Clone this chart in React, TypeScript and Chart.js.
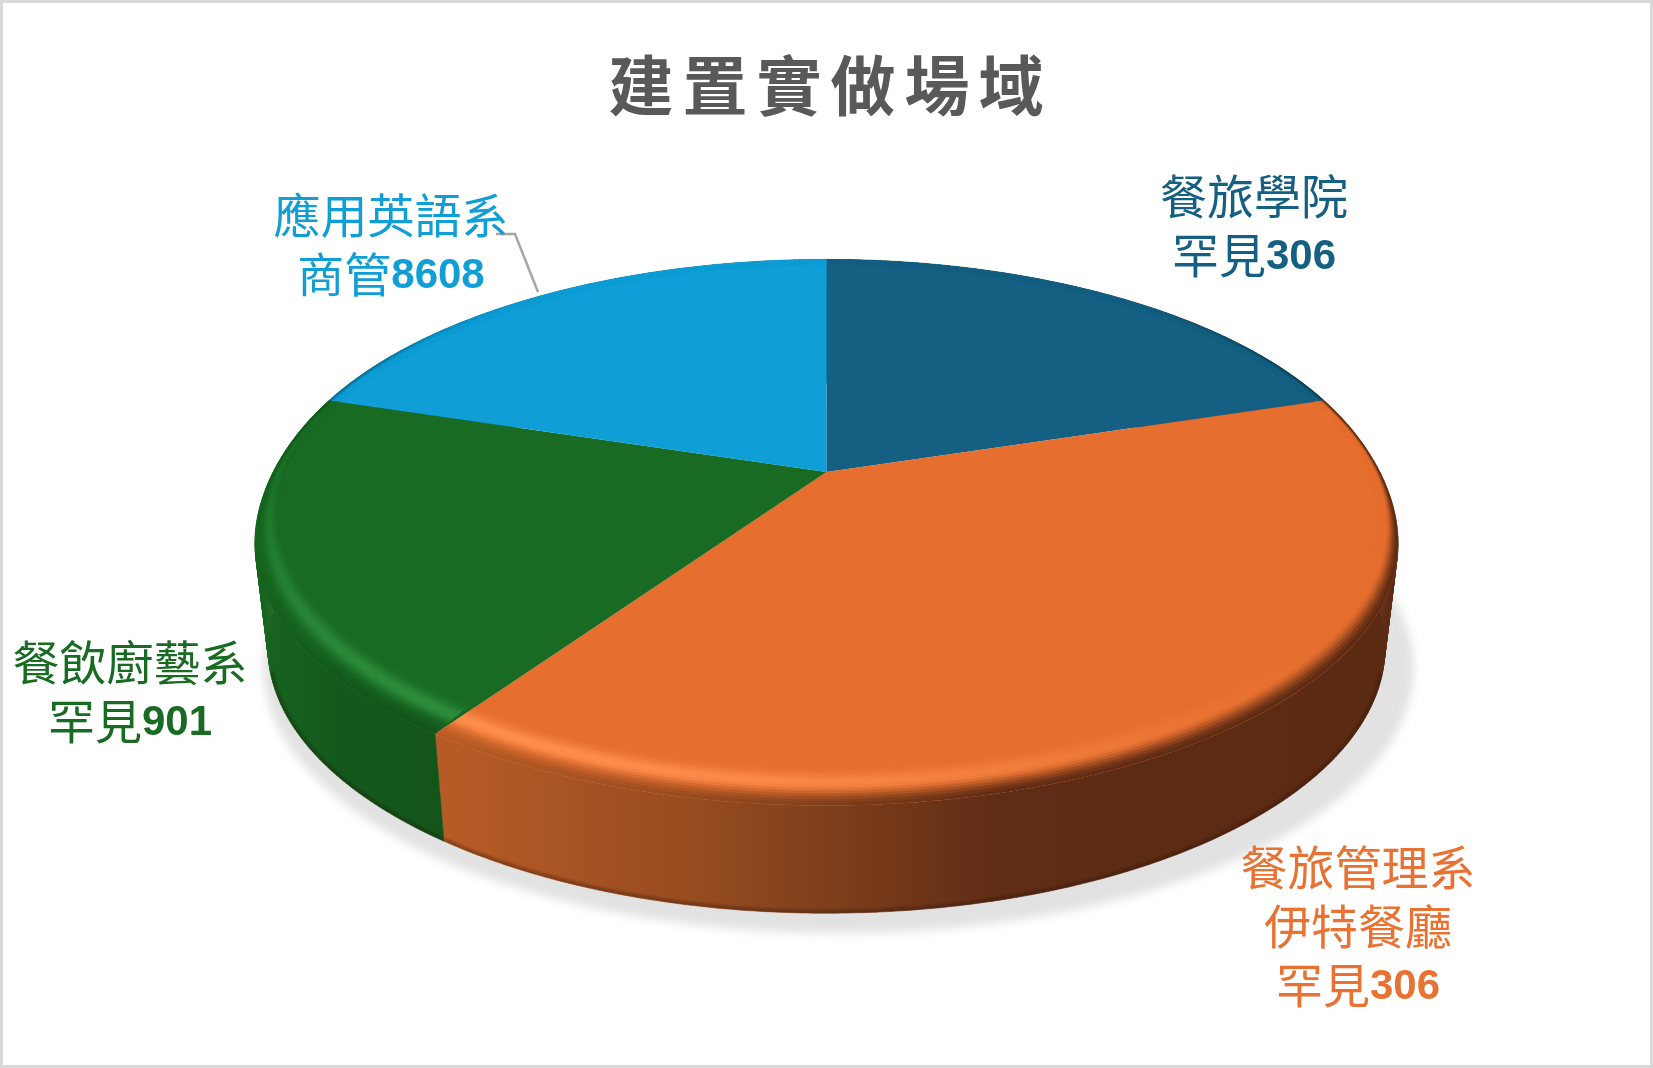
import { useEffect, useRef } from "react"
import { Chart, registerables } from "chart.js"

Chart.register(...registerables)

const titleText = "建置實做場域"
const categories = ["餐旅學院", "餐旅管理系", "餐飲廚藝系", "應用英語系"]
const partners = [["罕見"], ["伊特餐廳", "罕見"], ["罕見"], ["商管"]]
const numbers = ["306", "306", "901", "8608"]
const values = [20, 39.8, 20.2, 20]
const sliceColors = ["#156082", "#E66F2F", "#196B24", "#0F9ED5"]
const labelColors = ["#156082", "#E97132", "#196B24", "#0F9ED5"]
const rimColors = ["#2a7fa3", "#FF8F4E", "#2F8F3E", "#3ab5e5"]
const labelSpots = [
  { x: 1254, y: 196 },
  { x: 1358, y: 867 },
  { x: 130, y: 662 },
  { x: 391, y: 215 },
]

// x position + colour along the side wall of each slice
const wallStops: [number, string][][] = [
  [[200, "#0f435b"], [1400, "#0f435b"]],
  [[439, "#B85C26"], [700, "#964B20"], [826, "#7F3F1B"], [1000, "#5F2C15"], [1400, "#5B2A13"]],
  [[255, "#17651F"], [340, "#14591C"], [450, "#13541A"]],
  [[200, "#0b6f96"], [1400, "#0b6f96"]],
]

// perspective of the disc
const TILT = -0.2166
const SQUASH = 0.4636
const FLOOR_SCALE = 0.977
const DEPTH = 118.6
const RIM_DROP = 12
const TITLE_SHIFT = 4

const hexRgb = (h: string) => [1, 3, 5].map((i) => parseInt(h.slice(i, i + 2), 16))
const mix = (a: number[], b: number[], t: number) => a.map((v, i) => v + (b[i] - v) * t)
const css = (c: number[]) => `rgb(${c.map((v) => Math.round(v)).join(",")})`
const clamp = (v: number) => Math.min(1, Math.max(0, v))
const smooth = (a: number, b: number, v: number) => {
  const t = clamp((v - a) / (b - a))
  return t * t * (3 - 2 * t)
}

function wallColor(stops: [number, string][], x: number) {
  if (x <= stops[0][0]) return hexRgb(stops[0][1])
  for (let i = 1; i < stops.length; i++) {
    if (x <= stops[i][0]) {
      const t = (x - stops[i - 1][0]) / (stops[i][0] - stops[i - 1][0])
      return mix(hexRgb(stops[i - 1][1]), hexRgb(stops[i][1]), t)
    }
  }
  return hexRgb(stops[stops.length - 1][1])
}

// how far the rounded edge hangs below the flat face at a given angle
const rimDrop = (a: number) => {
  const s = Math.sin(a)
  const spread = s > 0.2 ? 0.7 : 0.45
  return RIM_DROP * Math.exp(-Math.pow((s - 0.2) / spread, 2))
}

const perspectivePie = {
  id: "perspectivePie",
  beforeDraw(chart: any) {
    chart.ctx.letterSpacing = "9px"
    chart.ctx.translate(TITLE_SHIFT, 0)
  },
  beforeDatasetsDraw(chart: any) {
    const ctx: CanvasRenderingContext2D = chart.ctx
    ctx.letterSpacing = "0px"
    ctx.translate(-TITLE_SHIFT, 0)
    const arcs = chart.getDatasetMeta(0).data
    const { x: cx, y: cy, outerRadius: R } = arcs[0]

    const flat = (a: number, r = 1) => {
      const d = 1 + TILT * r * Math.sin(a)
      return [cx + (R * r * Math.cos(a)) / d, cy + (R * SQUASH * r * Math.sin(a)) / d]
    }
    // u: 0 where the rim starts on the face, 1 at its outer edge
    const top = (a: number, r = 1, u = 1) => {
      const [x, y] = flat(a, r)
      return [x, y + rimDrop(a) * u * u]
    }
    const floor = (a: number) => {
      const [x, y] = flat(a)
      return [cx + (x - cx) * FLOOR_SCALE, cy + (y - cy) * FLOOR_SCALE + DEPTH]
    }
    const samples = (from: number, to: number) => {
      const n = Math.ceil(Math.abs(to - from) / 0.01)
      return Array.from({ length: n + 1 }, (_, i) => from + ((to - from) * i) / n)
    }
    const trace = (pts: number[][]) => {
      ctx.beginPath()
      pts.forEach(([x, y], i) => (i ? ctx.lineTo(x, y) : ctx.moveTo(x, y)))
      ctx.closePath()
    }

    // soft shadow under the disc
    ctx.save()
    ctx.filter = "blur(5px)"
    ctx.fillStyle = "#E2E2E2"
    trace(samples(0, Math.PI * 2).map(floor).map(([x, y]) => [cx + 12 + (x - cx) * 1.03, y + 20]))
    ctx.fill()
    ctx.restore()

    // side walls
    arcs.forEach((arc: any, i: number) => {
      const angles = samples(arc.startAngle, arc.endAngle)
      const grad = ctx.createLinearGradient(200, 0, 1400, 0)
      wallStops[i].forEach(([x, c]) => grad.addColorStop((x - 200) / 1200, c))
      const shape = new Path2D()
      for (let k = 0; k < angles.length - 1; k++) {
        const pts = [top(angles[k]), top(angles[k + 1]), floor(angles[k + 1]), floor(angles[k])]
        pts.forEach(([x, y], n) => (n ? shape.lineTo(x, y) : shape.moveTo(x, y)))
        shape.closePath()
      }
      ctx.save()
      ctx.fillStyle = grad
      ctx.fill(shape)
      ctx.strokeStyle = grad
      ctx.lineWidth = 0.6
      ctx.stroke(shape)
      ctx.clip(shape)
      // darker lip along the lower edge, only where that edge is the outline
      ctx.beginPath()
      angles
        .filter((a) => Math.sin(a) > 0.3)
        .map(floor)
        .forEach(([x, y], k) => (k ? ctx.lineTo(x, y) : ctx.moveTo(x, y)))
      ctx.strokeStyle = "rgba(40,15,5,0.3)"
      ctx.lineWidth = 7
      ctx.filter = "blur(1px)"
      ctx.stroke()
      ctx.restore()
    })

    // top faces
    const facePath = (arc: any) => [[cx, cy], ...samples(arc.startAngle, arc.endAngle).map((a) => top(a))]
    arcs.forEach((arc: any) => {
      trace(facePath(arc))
      ctx.fillStyle = arc.options.backgroundColor
      ctx.fill()
    })

    // rounded rim: highlight to the front left, falling off into the wall colour
    const STEPS = 14
    const width = (a: number) => 0.03 + 0.055 * Math.max(0, Math.sin(a))
    arcs.forEach((arc: any, i: number) => {
      const base = hexRgb(sliceColors[i])
      const rim = hexRgb(rimColors[i])
      const angles = samples(arc.startAngle, arc.endAngle)
      ctx.save()
      trace(facePath(arc))
      ctx.clip()
      ctx.lineWidth = 0.7
      for (let k = 0; k < angles.length - 1; k++) {
        const a0 = angles[k]
        const a1 = angles[k + 1]
        const mid = (a0 + a1) / 2
        const strength = Math.pow(Math.max(0, Math.cos(mid - (120 * Math.PI) / 180)), 2)
        const weight = clamp((Math.sin(mid) + 0.8) / 0.4)
        for (let s = 0; s < STEPS; s++) {
          const u0 = s / STEPS
          const u1 = (s + 1) / STEPS
          const um = (u0 + u1) / 2
          const r0 = (a: number) => 1 - width(a) * (1 - u0)
          const r1 = (a: number) => 1 - width(a) * (1 - u1)
          const p = [top(a0, r0(a0), u0), top(a0, r1(a0), u1), top(a1, r1(a1), u1), top(a1, r0(a1), u0)]
          const glow = strength * Math.exp(-Math.pow((um - 0.42) / 0.24, 2))
          let c = mix(base, rim, glow)
          c = mix(c, wallColor(wallStops[i], p[1][0]), weight * smooth(0.5, 1, um))
          trace(p)
          ctx.fillStyle = ctx.strokeStyle = css(c)
          ctx.fill()
          ctx.stroke()
        }
      }
      ctx.restore()
    })

    return false
  },
  afterDraw(chart: any) {
    const ctx: CanvasRenderingContext2D = chart.ctx
    ctx.save()
    ctx.strokeStyle = "#A6A6A6"
    ctx.lineWidth = 2.5
    ctx.beginPath()
    ctx.moveTo(496, 234)
    ctx.lineTo(515, 234)
    ctx.lineTo(538, 292)
    ctx.stroke()

    const cjk = '47px "Noto Sans CJK TC"'
    const digits = 'bold 42px "Liberation Sans"'
    ctx.textBaseline = "middle"
    ctx.textAlign = "left"
    categories.forEach((name, i) => {
      const lines = [name, ...partners[i]]
      lines.forEach((line, k) => {
        const last = k === lines.length - 1
        ctx.font = cjk
        const w1 = ctx.measureText(line).width
        ctx.font = digits
        const w2 = last ? ctx.measureText(numbers[i]).width : 0
        const x0 = labelSpots[i].x - (w1 + w2) / 2
        const y = labelSpots[i].y + k * 59
        ctx.fillStyle = labelColors[i]
        ctx.font = cjk
        ctx.fillText(line, x0, y)
        if (last) {
          ctx.font = digits
          ctx.fillText(numbers[i], x0 + w1, y + 2)
        }
      })
    })
    ctx.restore()
  },
}

export default function App() {
  const chartRef = useRef<HTMLCanvasElement>(null)

  useEffect(() => {
    if (!chartRef.current) return
    const chart = new Chart(chartRef.current, {
      type: "pie",
      data: {
        labels: categories,
        datasets: [{ data: values, backgroundColor: sliceColors, borderWidth: 0 }],
      },
      options: {
        responsive: false,
        animation: false,
        radius: 558,
        layout: { padding: { bottom: 248 } },
        plugins: {
          legend: { display: false },
          tooltip: { enabled: false },
          title: {
            display: true,
            text: titleText,
            color: "#595959",
            font: { family: '"Noto Sans CJK TC"', size: 65, weight: "bold" },
            padding: { top: 46, bottom: 0 },
          },
        },
      } as any,
      plugins: [perspectivePie],
    })
    return () => chart.destroy()
  }, [])

  return (
    <div
      style={{
        position: "fixed",
        left: 0,
        top: 0,
        width: 1653,
        height: 1068,
        background: "#fff",
        boxShadow: "inset 0 0 0 3px #D9D9D9",
      }}
    >
      <canvas ref={chartRef} width={1653} height={1068} style={{ display: "block" }} />
    </div>
  )
}
